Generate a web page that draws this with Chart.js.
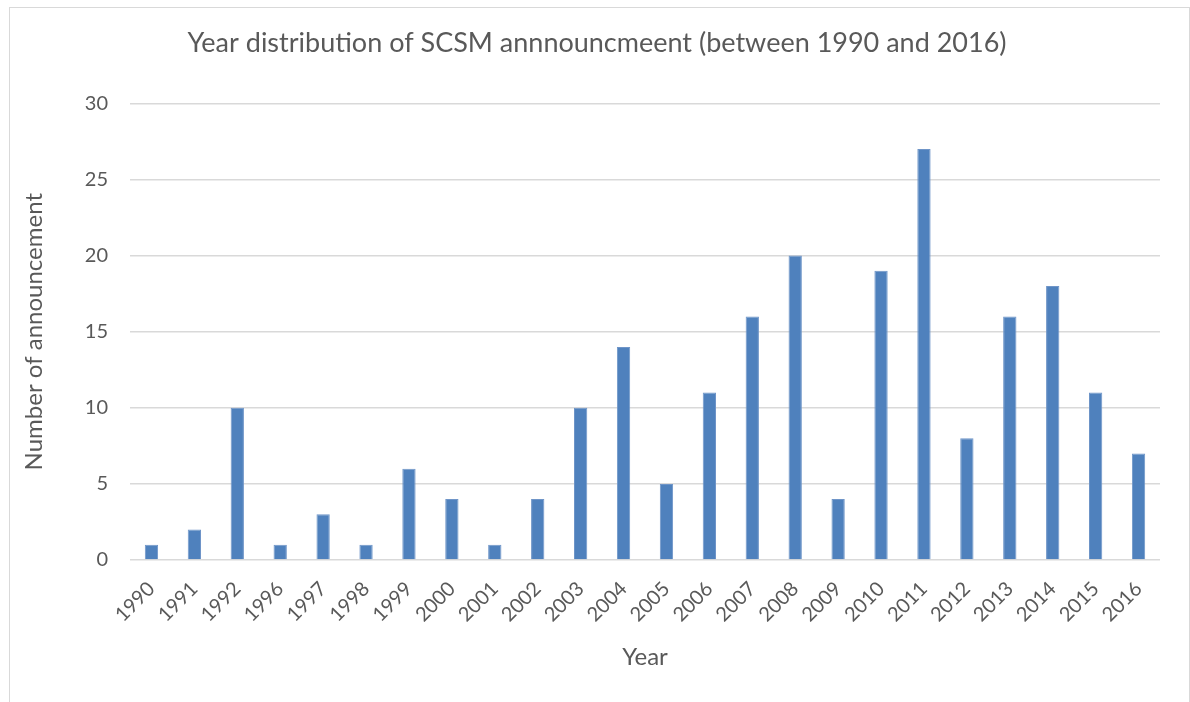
<!DOCTYPE html>
<html>
<head>
<meta charset="utf-8">
<script src="https://cdn.jsdelivr.net/npm/chart.js@4/dist/chart.umd.min.js"></script>
<style>
    body { margin: 0; background: #fff; }
    #frame { position: absolute; left: 9px; top: 7px; width: 1179px; height: 720px; border: 1px solid #d9d9d9; }
    #wrap { position: absolute; left: 0; top: 0; width: 1190px; height: 702px; }
</style>
</head>
<body>
<div id="frame"></div>
<div id="wrap"><canvas id="chart"></canvas></div>
<script>
// year distribution data
const years = ['1990', '1991', '1992', '1996', '1997', '1998', '1999', '2000', '2001', '2002', '2003', '2004',
    '2005', '2006', '2007', '2008', '2009', '2010', '2011', '2012', '2013', '2014', '2015', '2016'];
const counts = [1, 2, 10, 1, 3, 1, 6, 4, 1, 4, 10, 14, 5, 11, 16, 20, 4, 19, 27, 8, 16, 18, 11, 7];

const FONT = 'Lato, "Open Sans", sans-serif';
const TEXT = '#595959';

// nudge the title so it sits centred on the frame like the original
const titleShift = {
    id: 'titleShift',
    afterLayout(chart) {
        if (chart.titleBlock) chart.titleBlock.left += 34;
    },
};

new Chart(document.getElementById('chart'), {
    type: 'bar',
    data: {
        labels: years,
        datasets: [{
            data: counts,
            backgroundColor: '#4f81bd',
            borderColor: '#6f95c8',
            borderWidth: 1,
            barPercentage: 0.31,
            categoryPercentage: 1,
        }],
    },
    options: {
        responsive: true,
        maintainAspectRatio: false,
        animation: false,
        layout: { padding: { left: 0, right: 30, top: 0, bottom: 0 } },
        plugins: {
            legend: { display: false },
            tooltip: { enabled: false },
            title: {
                display: true,
                text: 'Year distribution of SCSM annnouncmeent (between 1990 and 2016)',
                color: TEXT,
                font: { family: FONT, size: 27, weight: 'normal' },
                padding: { top: 27, bottom: 44 },
            },
        },
        scales: {
            x: {
                grid: { display: false },
                border: { display: false },
                ticks: {
                    color: TEXT,
                    font: { family: FONT, size: 20 },
                    maxRotation: 45,
                    minRotation: 45,
                    padding: 9,
                },
                title: {
                    display: true,
                    text: 'Year',
                    color: TEXT,
                    font: { family: FONT, size: 24 },
                    padding: { top: 0, bottom: 30 },
                },
                afterFit: s => { s.height = 142; },
            },
            y: {
                min: 0,
                max: 30,
                grid: { color: '#d9d9d9', lineWidth: 1.5, drawTicks: false },
                border: { display: false },
                ticks: {
                    stepSize: 5,
                    color: TEXT,
                    font: { family: FONT, size: 20 },
                    padding: 22,
                },
                title: {
                    display: true,
                    text: 'Number of announcement',
                    color: TEXT,
                    font: { family: FONT, size: 24 },
                    padding: { top: 20, bottom: 0 },
                },
                afterFit: s => { s.width = 130; },
            },
        },
    },
    plugins: [titleShift],
});
</script>
</body>
</html>
